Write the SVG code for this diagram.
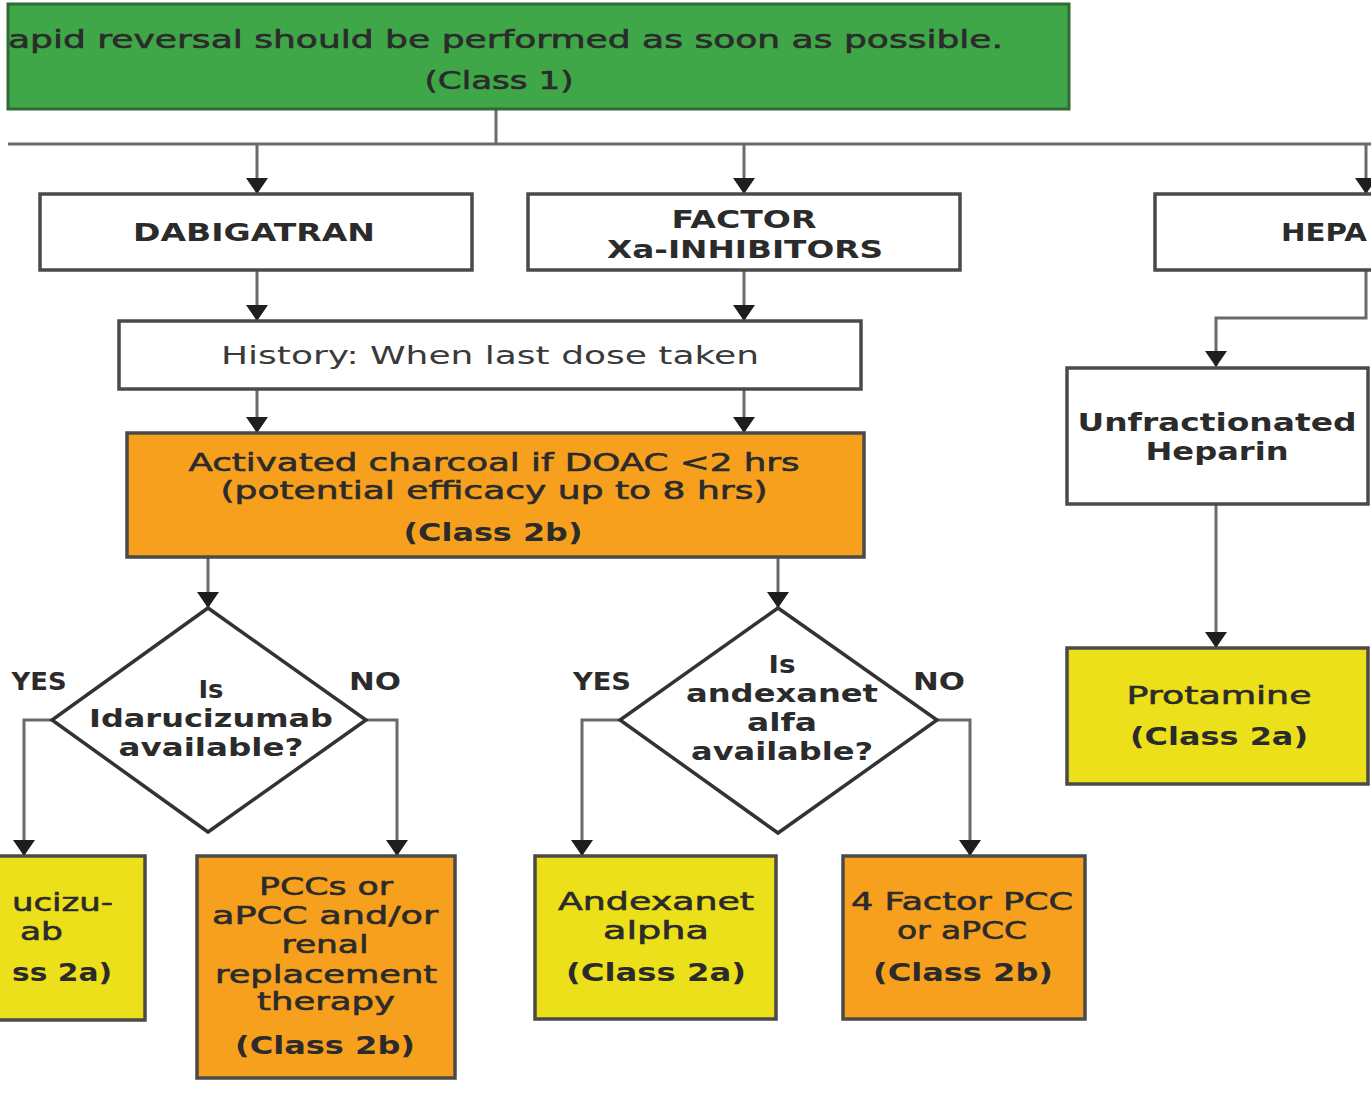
<svg xmlns="http://www.w3.org/2000/svg" width="1371" height="1098" viewBox="0 0 1371 1098">
<defs>
<style>
text{font-family:"DejaVu Sans","Liberation Sans",sans-serif;fill:#2b2b2b;text-anchor:middle;font-size:25px}
.b{font-weight:bold}
.m{font-weight:normal;stroke:#2b2b2b;stroke-width:0.6}
.box{stroke:#4a4a4a;stroke-width:3.5}
.w{fill:#ffffff}
.o{fill:#f6a01e}
.y{fill:#ebe01a}
.g{fill:#3fa748;stroke:#2f6b35;stroke-width:3}
.c{fill:none;stroke:#6a6a6a;stroke-width:3}
.ca{fill:none;stroke:#6a6a6a;stroke-width:3;marker-end:url(#ah)}
.dia{fill:#ffffff;stroke:#333;stroke-width:3.5}
</style>
<marker id="ah" viewBox="0 0 16 22" refX="15" refY="11" markerWidth="16" markerHeight="22" markerUnits="userSpaceOnUse" orient="auto">
<path d="M0,0 L16,11 L0,22 z" fill="#1e1e1e"/>
</marker>
</defs>

<g id="connectors">
<path class="c" d="M496,110 V144"/>
<path class="c" d="M8,144 H1371"/>
<path class="ca" d="M257,144 V193"/>
<path class="ca" d="M744,144 V193"/>
<path class="ca" d="M1366,144 V193"/>
<path class="ca" d="M257,271 V320"/>
<path class="ca" d="M744,271 V320"/>
<path class="ca" d="M257,390 V432"/>
<path class="ca" d="M744,390 V432"/>
<path class="ca" d="M208,558 V607"/>
<path class="ca" d="M778,558 V607"/>
<path class="ca" d="M52,720 H24 V855"/>
<path class="ca" d="M366,720 H397 V855"/>
<path class="ca" d="M620,720 H582 V855"/>
<path class="ca" d="M937,720 H970 V855"/>
<path class="ca" d="M1366,271 V318 H1216 V366"/>
<path class="ca" d="M1216,505 V647"/>
</g>

<g id="top-recommendation">
<rect class="g" x="8" y="4" width="1061" height="105"/>
<text class="m" x="8" y="48" style="text-anchor:start" textLength="995" lengthAdjust="spacingAndGlyphs">apid reversal should be performed as soon as possible.</text>
<text class="m" x="499" y="89" textLength="149" lengthAdjust="spacingAndGlyphs">(Class 1)</text>
</g>

<g id="dabigatran">
<rect class="box w" x="40" y="194" width="432" height="76"/>
<text class="b" x="254" y="241" textLength="242" lengthAdjust="spacingAndGlyphs">DABIGATRAN</text>
</g>

<g id="factor-xa">
<rect class="box w" x="528" y="194" width="432" height="76"/>
<text class="b" x="744" y="228" textLength="145" lengthAdjust="spacingAndGlyphs">FACTOR</text>
<text class="b" x="745" y="258" textLength="276" lengthAdjust="spacingAndGlyphs">Xa-INHIBITORS</text>
</g>

<g id="heparin">
<rect class="box w" x="1155" y="194" width="432" height="76"/>
<text class="b" x="1281" y="241" style="text-anchor:start" textLength="86" lengthAdjust="spacingAndGlyphs">HEPA</text>
</g>

<g id="history">
<rect class="box w" x="119" y="321" width="742" height="68"/>
<text x="490" y="364" style="fill:#3a3a3a" textLength="538" lengthAdjust="spacingAndGlyphs">History: When last dose taken</text>
</g>

<g id="charcoal">
<rect class="box o" x="127" y="433" width="737" height="124"/>
<text class="m" x="494" y="471" textLength="611" lengthAdjust="spacingAndGlyphs">Activated charcoal if DOAC &lt;2 hrs</text>
<text class="m" x="494" y="499" textLength="547" lengthAdjust="spacingAndGlyphs">(potential efficacy up to 8 hrs)</text>
<text class="b" x="493" y="541" textLength="179" lengthAdjust="spacingAndGlyphs">(Class 2b)</text>
</g>

<g id="q-idarucizumab">
<polygon class="dia" points="208,608 366,720 208,832 52,720"/>
<text class="b" x="211" y="698" textLength="25" lengthAdjust="spacingAndGlyphs">Is</text>
<text class="b" x="211" y="727" textLength="244" lengthAdjust="spacingAndGlyphs">Idarucizumab</text>
<text class="b" x="211" y="756" textLength="185" lengthAdjust="spacingAndGlyphs">available?</text>
</g>
<g id="label-yes-1"><text class="b" x="39" y="690" textLength="55" lengthAdjust="spacingAndGlyphs">YES</text></g>
<g id="label-no-1"><text class="b" x="375" y="690" textLength="52" lengthAdjust="spacingAndGlyphs">NO</text></g>

<g id="q-andexanet">
<polygon class="dia" points="778,608 937,720 778,833 620,720"/>
<text class="b" x="782" y="673" textLength="27" lengthAdjust="spacingAndGlyphs">Is</text>
<text class="b" x="782" y="702" textLength="192" lengthAdjust="spacingAndGlyphs">andexanet</text>
<text class="b" x="782" y="731" textLength="70" lengthAdjust="spacingAndGlyphs">alfa</text>
<text class="b" x="782" y="760" textLength="182" lengthAdjust="spacingAndGlyphs">available?</text>
</g>
<g id="label-yes-2"><text class="b" x="602" y="690" textLength="58" lengthAdjust="spacingAndGlyphs">YES</text></g>
<g id="label-no-2"><text class="b" x="939" y="690" textLength="52" lengthAdjust="spacingAndGlyphs">NO</text></g>

<g id="idarucizumab">
<rect class="box y" x="-110" y="856" width="255" height="164"/>
<text class="m" x="12" y="911" style="text-anchor:start" textLength="101" lengthAdjust="spacingAndGlyphs">ucizu-</text>
<text class="m" x="20" y="940" style="text-anchor:start" textLength="43" lengthAdjust="spacingAndGlyphs">ab</text>
<text class="b" x="12" y="981" style="text-anchor:start" textLength="100" lengthAdjust="spacingAndGlyphs">ss 2a)</text>
</g>

<g id="pcc">
<rect class="box o" x="197" y="856" width="258" height="222"/>
<text class="m" x="326" y="895" textLength="134" lengthAdjust="spacingAndGlyphs">PCCs or</text>
<text class="m" x="325" y="924" textLength="226" lengthAdjust="spacingAndGlyphs">aPCC and/or</text>
<text class="m" x="325" y="953" textLength="87" lengthAdjust="spacingAndGlyphs">renal</text>
<text class="m" x="326" y="983" textLength="222" lengthAdjust="spacingAndGlyphs">replacement</text>
<text class="m" x="326" y="1010" textLength="138" lengthAdjust="spacingAndGlyphs">therapy</text>
<text class="b" x="325" y="1054" textLength="180" lengthAdjust="spacingAndGlyphs">(Class 2b)</text>
</g>

<g id="andexanet">
<rect class="box y" x="535" y="856" width="241" height="163"/>
<text class="m" x="656" y="910" textLength="196" lengthAdjust="spacingAndGlyphs">Andexanet</text>
<text class="m" x="656" y="939" textLength="106" lengthAdjust="spacingAndGlyphs">alpha</text>
<text class="b" x="656" y="981" textLength="180" lengthAdjust="spacingAndGlyphs">(Class 2a)</text>
</g>

<g id="four-factor">
<rect class="box o" x="843" y="856" width="242" height="163"/>
<text class="m" x="962" y="910" textLength="222" lengthAdjust="spacingAndGlyphs">4 Factor PCC</text>
<text class="m" x="962" y="939" textLength="130" lengthAdjust="spacingAndGlyphs">or aPCC</text>
<text class="b" x="963" y="981" textLength="180" lengthAdjust="spacingAndGlyphs">(Class 2b)</text>
</g>

<g id="unfractionated">
<rect class="box w" x="1067" y="368" width="301" height="136"/>
<text class="b" x="1217" y="431" textLength="279" lengthAdjust="spacingAndGlyphs">Unfractionated</text>
<text class="b" x="1217" y="460" textLength="143" lengthAdjust="spacingAndGlyphs">Heparin</text>
</g>

<g id="protamine">
<rect class="box y" x="1067" y="648" width="301" height="136"/>
<text class="m" x="1219" y="704" textLength="185" lengthAdjust="spacingAndGlyphs">Protamine</text>
<text class="b" x="1219" y="745" textLength="178" lengthAdjust="spacingAndGlyphs">(Class 2a)</text>
</g>
</svg>
